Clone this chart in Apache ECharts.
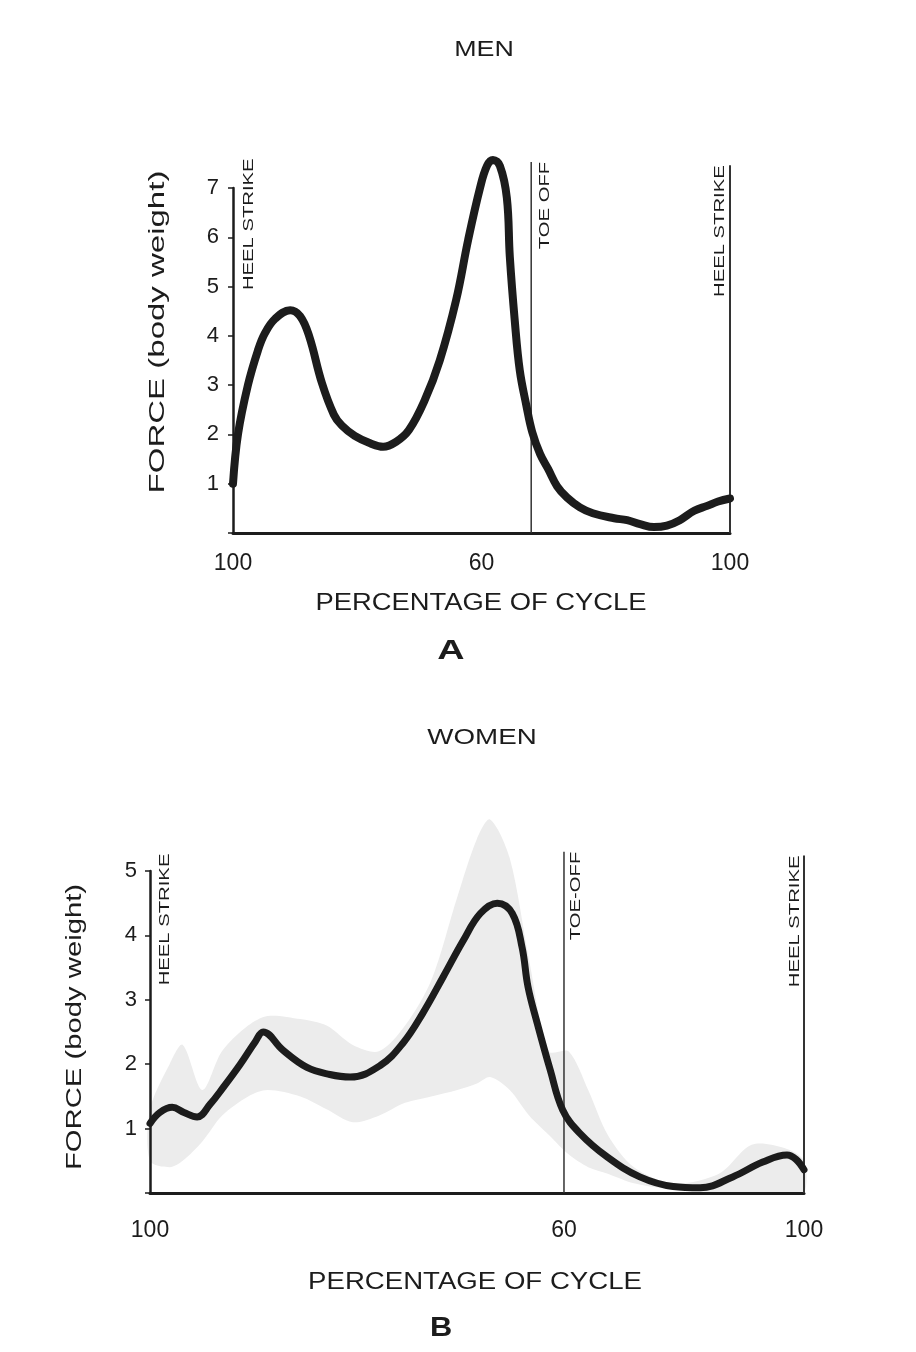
<!DOCTYPE html>
<html>
<head>
<meta charset="utf-8">
<title>Force over the gait cycle</title>
<script src="https://cdn.jsdelivr.net/npm/echarts@6/dist/echarts.min.js"></script>
<style>
  html, body { margin: 0; padding: 0; background: #fff; }
  #chart { width: 916px; height: 1352px; }
</style>
</head>
<body>
<div id="chart"></div>
<script>
// x = position in the cycle (left heel strike = 0, next heel strike = 100)
var menX = [0, 1.0, 3.0, 5.0, 6.4, 8.5, 11.5, 13.5, 15.3, 17.9, 20.3, 21.9, 24.5, 27.6, 30.2,
  32.8, 35.4, 38.6, 41.6, 44.9, 47.3, 49.7, 51.1, 52.3, 53.7, 55.1, 55.7, 56.7, 57.7, 59.0,
  60.2, 61.8, 63.4, 65.2, 67.2, 69.8, 72.4, 76.7, 79.3, 81.9, 84.7, 87.3, 89.9, 92.8, 95.4, 97.6, 100]
var menForce = [1.0, 2.0, 3.0, 3.7, 4.05, 4.35, 4.52, 4.4, 4.0, 3.04, 2.4, 2.18, 1.97, 1.82, 1.75,
  1.85, 2.09, 2.7, 3.5, 4.73, 5.94, 7.0, 7.45, 7.57, 7.45, 6.8, 5.6, 4.3, 3.3, 2.6,
  2.05, 1.6, 1.3, 0.95, 0.72, 0.52, 0.4, 0.3, 0.26, 0.18, 0.12, 0.15, 0.26, 0.45, 0.55, 0.64, 0.7]

var womenX = [0, 1.5, 3.4, 5.2, 7.2, 9.2, 11.2, 13.8, 16.1, 17.3, 20.3, 24.0, 27.5, 30.6, 35.2,
  38.7, 41.7, 44.8, 47.9, 50.5, 53.1, 55.4, 56.9, 57.8, 59.2, 61.2, 63.1, 65.7, 69.9, 74.9,
  80.0, 84.1, 89.1, 93.7, 97.4, 98.8, 100]
var womenForce = [1.08, 1.25, 1.33, 1.25, 1.18, 1.38, 1.64, 2.0, 2.35, 2.5, 2.22, 1.95, 1.84, 1.8, 1.98,
  2.33, 2.79, 3.35, 3.92, 4.34, 4.5, 4.34, 3.81, 3.2, 2.64, 1.91, 1.29, 0.93, 0.56, 0.25,
  0.1, 0.08, 0.25, 0.48, 0.59, 0.52, 0.36]

// spread of the individual women's records (stippled band)
var womenBandX = [0, 3, 5, 8, 11, 15, 18, 23, 27, 31, 35, 39, 43, 47, 50, 52, 55, 58, 61, 64, 67, 70,
  74, 80, 87, 92, 97, 100]
var womenBandLow = [0.5, 0.4, 0.5, 0.8, 1.2, 1.5, 1.6, 1.5, 1.3, 1.1, 1.2, 1.4, 1.5, 1.6, 1.7, 1.8, 1.6,
  1.2, 0.9, 0.6, 0.4, 0.3, 0.15, 0.05, 0, 0, 0, 0]
var womenBandHigh = [1.3, 2.0, 2.3, 1.6, 2.2, 2.6, 2.75, 2.7, 2.6, 2.3, 2.2, 2.6, 3.3, 4.6, 5.5, 5.8, 5.2,
  3.6, 2.2, 2.2, 1.6, 0.9, 0.4, 0.15, 0.3, 0.75, 0.7, 0.5]

var xTickLabels = ['100', '60', '100']
var menXTicks = [0, 50, 100]
var womenXTicks = [0, 63.3, 100]
var menYMax = 7
var womenYMax = 5

// gait events: name, position, how high the marker reaches
var menEvents = ['HEEL STRIKE', 'TOE OFF', 'HEEL STRIKE']
var menEventX = [0, 60, 100]
var menEventTop = [7.6, 7.53, 7.46]
var womenEvents = ['HEEL STRIKE', 'TOE-OFF', 'HEEL STRIKE']
var womenEventX = [0, 63.3, 100]
var womenEventTop = [5.27, 5.3, 5.24]

var font = "'Liberation Sans', Arial, Helvetica, sans-serif"
var ink = '#1c1c1c'

function pairs(xs, ys) {
  return xs.map(function (x, i) { return [x, ys[i]] })
}

function xAxisFor(gridIndex, ticks, margin) {
  return {
    type: 'value',
    gridIndex: gridIndex,
    min: 0,
    max: 100,
    z: 3,
    axisLine: { show: true, lineStyle: { color: ink, width: 3 } },
    axisTick: { show: false },
    splitLine: { show: false },
    axisLabel: {
      customValues: ticks,
      margin: margin,
      fontFamily: font,
      fontSize: 23,
      color: ink,
      formatter: function (v) {
        var i = ticks.indexOf(v)
        return i >= 0 ? xTickLabels[i] : ''
      }
    }
  }
}

function yAxisFor(gridIndex, max, margin) {
  return {
    type: 'value',
    gridIndex: gridIndex,
    min: 0,
    max: max,
    interval: 1,
    z: 3,
    axisLine: { show: true, lineStyle: { color: ink, width: 2.5 } },
    axisTick: { show: true, length: 5, lineStyle: { color: ink, width: 1.5 } },
    splitLine: { show: false },
    axisLabel: {
      margin: margin,
      fontFamily: font,
      fontSize: 22,
      color: ink,
      formatter: function (v) { return v === 0 ? '' : String(v) }
    }
  }
}

function curve(data, idx, width) {
  return {
    type: 'line',
    xAxisIndex: idx,
    yAxisIndex: idx,
    data: data,
    showSymbol: false,
    smooth: 0.4,
    clip: false,
    z: 5,
    lineStyle: { color: ink, width: width, cap: 'round', join: 'round' }
  }
}

// thin vertical marker for each event after the first (the first sits on the y axis)
function eventSeries(idx, xs, tops) {
  var out = []
  for (var i = 1; i < xs.length; i++) {
    out.push({
      type: 'line',
      xAxisIndex: idx,
      yAxisIndex: idx,
      data: [[xs[i], 0], [xs[i], tops[i]]],
      showSymbol: false,
      clip: false,
      silent: true,
      z: 4,
      lineStyle: { color: '#333', width: i === xs.length - 1 ? 2 : 1.5 }
    })
  }
  return out
}

// band between the low and high envelopes, drawn as one polygon
function bandSeries(idx, xs, low, high) {
  return {
    type: 'custom',
    xAxisIndex: idx,
    yAxisIndex: idx,
    silent: true,
    z: 1,
    data: [[0]],
    renderItem: function (params, api) {
      var pts = []
      xs.forEach(function (x, i) { pts.push(api.coord([x, high[i]])) })
      for (var i = xs.length - 1; i >= 0; i--) pts.push(api.coord([xs[i], low[i]]))
      return {
        type: 'polygon',
        shape: { points: pts, smooth: 0.3 },
        style: { fill: '#ececec', stroke: null }
      }
    }
  }
}

var chart = echarts.init(document.getElementById('chart'))
chart.setOption({
  animation: false,
  backgroundColor: '#fff',
  grid: [
    { left: 233, top: 188, width: 497, height: 345 },
    { left: 150, top: 871, width: 654, height: 322 }
  ],
  xAxis: [xAxisFor(0, menXTicks, 19), xAxisFor(1, womenXTicks, 26)],
  yAxis: [yAxisFor(0, menYMax, 14), yAxisFor(1, womenYMax, 13)],
  series: [].concat(
    [bandSeries(1, womenBandX, womenBandLow, womenBandHigh)],
    [curve(pairs(menX, menForce), 0, 8), curve(pairs(womenX, womenForce), 1, 7)],
    eventSeries(0, menEventX, menEventTop),
    eventSeries(1, womenEventX, womenEventTop)
  )
})

// rotated event labels, placed from the axes
var labels = []
function addEvents(g, names, xs, tops, sides, gaps) {
  names.forEach(function (name, i) {
    var p = chart.convertToPixel({ gridIndex: g }, [xs[i], tops[i]])
    var right = sides[i] === 'right'
    labels.push({
      type: 'text',
      x: right ? p[0] + gaps[i] : p[0] - gaps[i],
      y: p[1],
      rotation: Math.PI / 2,
      scaleX: 1.35,
      z: 10,
      style: {
        text: name,
        fontFamily: font,
        fontSize: 15,
        fill: ink,
        align: 'right',
        verticalAlign: right ? 'top' : 'bottom'
      }
    })
  })
}
addEvents(0, menEvents, menEventX, menEventTop, ['right', 'right', 'left'], [8, 6, 3])
addEvents(1, womenEvents, womenEventX, womenEventTop, ['right', 'right', 'left'], [7, 4, 2])

// titles and axis names; the printed lettering is widely tracked, so it is stretched
function label(text, x, y, size, stretch, opts) {
  opts = opts || {}
  return {
    type: 'text', x: x, y: y, z: 10,
    rotation: opts.rotate ? Math.PI / 2 : 0,
    scaleX: stretch,
    style: {
      text: text, fontFamily: font, fontSize: size, fontWeight: opts.bold ? 'bold' : 'normal',
      fill: ink, align: 'center', verticalAlign: 'middle'
    }
  }
}
labels.push(label('MEN', 484, 50, 22, 1.22))
labels.push(label('FORCE (body weight)', 158, 332, 22, 1.5, { rotate: true }))
labels.push(label('PERCENTAGE OF CYCLE', 481, 604, 23, 1.19))
labels.push(label('A', 451, 651, 28, 1.35, { bold: true }))
labels.push(label('WOMEN', 482, 738, 22, 1.26))
labels.push(label('FORCE (body weight)', 75, 1027, 22, 1.33, { rotate: true }))
labels.push(label('PERCENTAGE OF CYCLE', 475, 1283, 23, 1.2))
labels.push(label('B', 441, 1328, 28, 1.1, { bold: true }))

chart.setOption({ graphic: { elements: labels } })
</script>
</body>
</html>
